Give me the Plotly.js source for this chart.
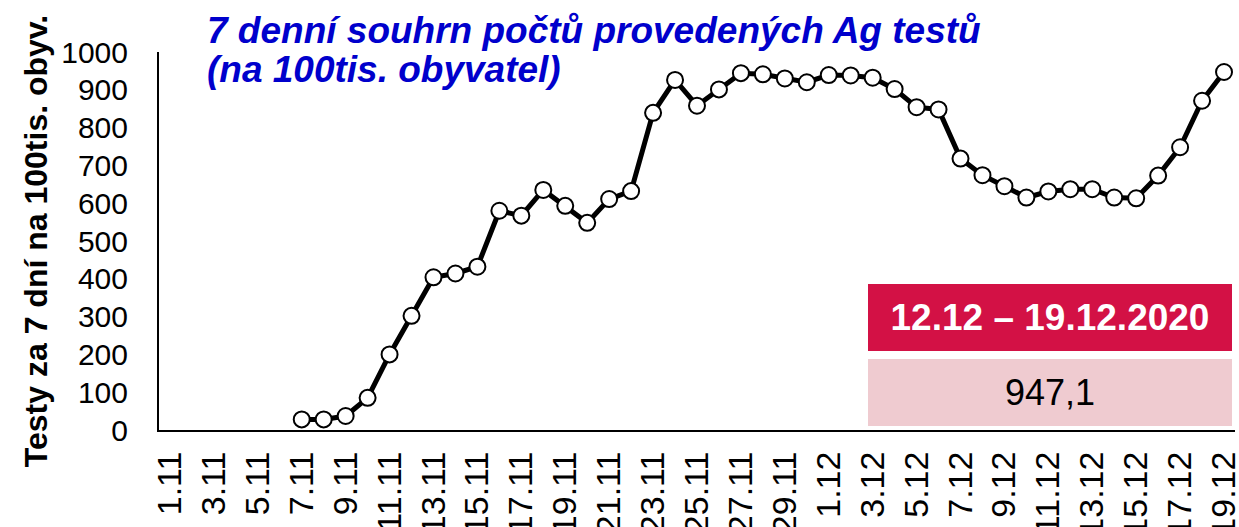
<!DOCTYPE html>
<html>
<head>
<meta charset="utf-8">
<script src="https://cdn.plot.ly/plotly-3.0.1.min.js"></script>
<style>html,body{margin:0;padding:0;background:#fff}#chart{width:1239px;height:527px}</style>
</head>
<body>
<div id="chart"></div>
<script>
const dates = ["1.11","2.11","3.11","4.11","5.11","6.11","7.11","8.11","9.11","10.11",
  "11.11","12.11","13.11","14.11","15.11","16.11","17.11","18.11","19.11","20.11",
  "21.11","22.11","23.11","24.11","25.11","26.11","27.11","28.11","29.11","30.11",
  "1.12","2.12","3.12","4.12","5.12","6.12","7.12","8.12","9.12","10.12",
  "11.12","12.12","13.12","14.12","15.12","16.12","17.12","18.12","19.12"];
const tests = [null,null,null,null,null,null,28,28,37,85,
  200,302,404,414,432,580,567,635,593,548,
  611,632,839,926,858,901,944,941,930,920,
  939,938,932,902,854,848,718,674,645,615,
  631,637,637,615,613,673,748,871,947.1];
const tickLabels = dates.filter((d, i) => i % 2 === 0);
const periodLabel = "12.12 – 19.12.2020";
const latestLabel = "947,1";
const titleLine1 = "7 denní souhrn počtů provedených Ag testů";
const titleLine2 = "(na 100tis. obyvatel)";
const yTitle = "Testy za 7 dní na 100tis. obyv.";

const FONT = "Arial, 'Liberation Sans', sans-serif";
const titleFont = {family: FONT, size: 37, color: "#0000CC", weight: "bold", style: "italic"};

const trace = {
  x: dates, y: tests, type: "scatter", mode: "lines+markers",
  line: {color: "#000", width: 5},
  marker: {size: 16, color: "#fff", line: {color: "#000", width: 2}},
  connectgaps: false, hoverinfo: "x+y"
};

const layout = {
  width: 1239, height: 527,
  margin: {l: 159, r: 4, t: 52, b: 97},
  paper_bgcolor: "#fff", plot_bgcolor: "#fff",
  showlegend: false,
  font: {family: FONT, color: "#000"},
  xaxis: {
    type: "category", range: [-0.5, 48.5],
    tickmode: "array", tickvals: tickLabels, ticktext: tickLabels,
    tickangle: -90, ticks: "", ticklabelstandoff: 6,
    tickfont: {size: 34, family: FONT, color: "#000"},
    showgrid: false, zeroline: false,
    showline: true, linecolor: "#000", linewidth: 2
  },
  yaxis: {
    range: [0, 1000], dtick: 100, tick0: 0,
    ticks: "", ticklabelstandoff: 23,
    tickfont: {size: 30, family: FONT, color: "#000"},
    showgrid: false, zeroline: false,
    showline: true, linecolor: "#000", linewidth: 2,
    title: {text: yTitle, standoff: 4, font: {size: 32, family: FONT, color: "#000", weight: "bold"}}
  },
  annotations: [
    {
      xref: "paper", yref: "paper", x: 0.0428, y: 1.058, xanchor: "left", yanchor: "middle",
      text: titleLine1, showarrow: false, align: "left", font: titleFont
    },
    {
      xref: "paper", yref: "paper", x: 0.0428, y: 0.953, xanchor: "left", yanchor: "middle",
      text: titleLine2, showarrow: false, align: "left", font: titleFont
    },
    {
      xref: "paper", yref: "paper", x: 0.659, y: 0.386, xanchor: "left", yanchor: "top",
      width: 364, height: 67, bgcolor: "#D31145", borderwidth: 0, borderpad: 0,
      text: "<b>" + periodLabel + "</b>", showarrow: false, align: "center", valign: "middle",
      font: {family: FONT, size: 37, color: "#fff"}
    },
    {
      xref: "paper", yref: "paper", x: 0.659, y: 0.188, xanchor: "left", yanchor: "top",
      width: 364, height: 67, bgcolor: "#EFCBD0", borderwidth: 0, borderpad: 0,
      text: latestLabel, showarrow: false, align: "center", valign: "middle",
      font: {family: FONT, size: 36, color: "#000"}
    }
  ]
};

Plotly.newPlot("chart", [trace], layout, {displayModeBar: false, staticPlot: true});
</script>
</body>
</html>
